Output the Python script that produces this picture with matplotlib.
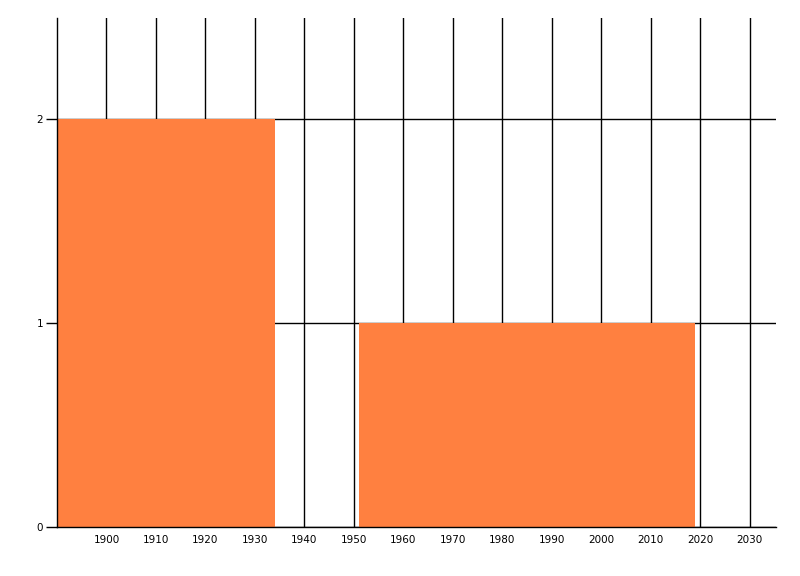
import matplotlib.pyplot as plt

# bar extents (years) and heights
bar_start = [1890, 1951]
bar_end = [1934, 2019]
bar_height = [2, 1]

x_ticks = list(range(1900, 2031, 10))
y_ticks = [0, 1, 2]

fig = plt.figure(figsize=(8, 5.76), dpi=100)
ax = fig.add_axes([57 / 800, 1 - 527 / 576, (776 - 57) / 800, (527 - 18) / 576])

widths = [e - s for s, e in zip(bar_start, bar_end)]
ax.bar(bar_start, bar_height, width=widths, align='edge', color='#FF8040',
       edgecolor='none', zorder=2)

ax.set_xlim(1890, 2035.3)
ax.set_ylim(0, 2.495)
ax.set_xticks(x_ticks)
ax.set_yticks(y_ticks)
ax.set_xticklabels([str(t) for t in x_ticks], fontsize=7.5)
ax.set_yticklabels([str(t) for t in y_ticks], fontsize=7.5)

ax.grid(True, color='black', linewidth=1.0, zorder=1)
ax.set_axisbelow(True)

ax.spines['top'].set_visible(False)
ax.spines['right'].set_visible(False)
ax.spines['left'].set_linewidth(1.0)
ax.spines['bottom'].set_linewidth(1.0)
ax.tick_params(axis='x', length=0, pad=6)
ax.tick_params(axis='y', length=8, width=1.0, pad=2)

fig.savefig('out.png', dpi=100)
